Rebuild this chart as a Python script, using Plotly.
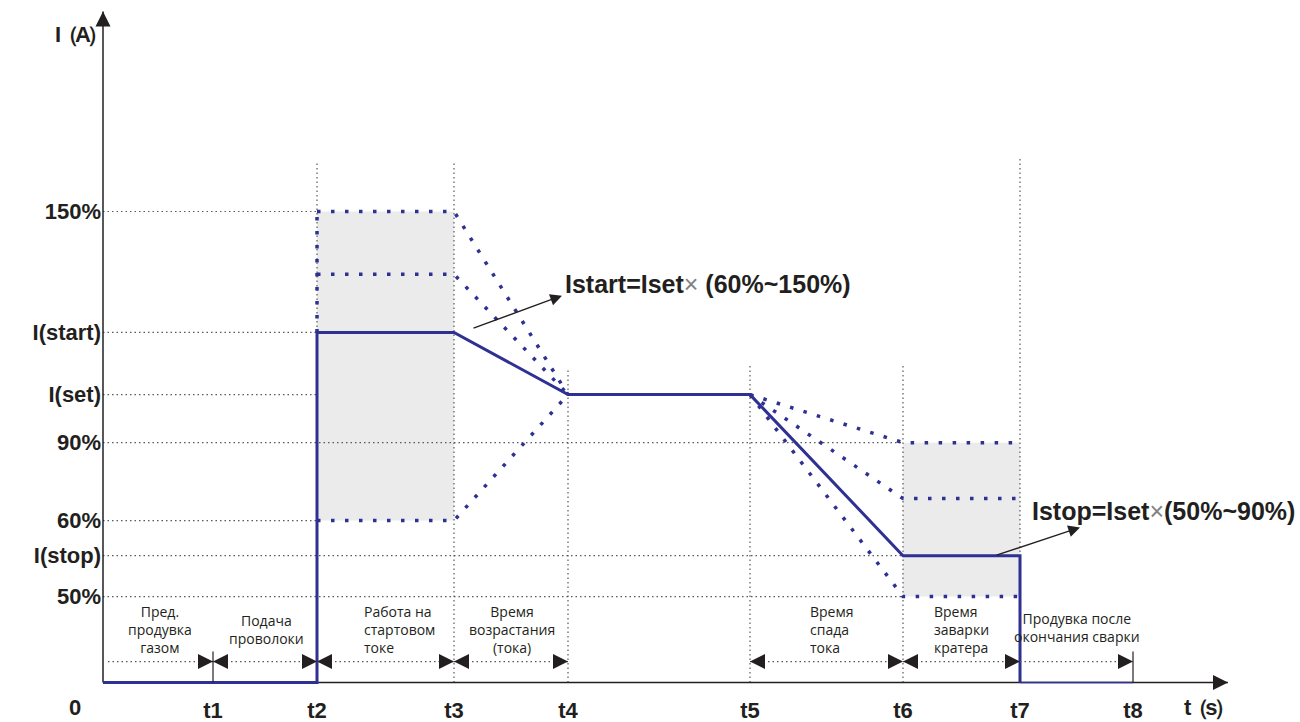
import plotly.graph_objects as go

# time marks on the t axis (s, schematic units)
t_names = ["t1", "t2", "t3", "t4", "t5", "t6", "t7", "t8"]
t_vals = [11.0, 21.4, 35.1, 46.5, 64.7, 80.0, 91.7, 103.0]

# current levels on the I axis (A, schematic units)
i_names = ["150%", "I(start)", "I(set)", "90%", "60%", "I(stop)", "50%"]
i_vals = [150.0, 111.5, 91.7, 76.4, 51.6, 40.4, 27.4]
i_start_mid = 130.0   # unlabeled intermediate start level
i_stop_mid = 58.6     # unlabeled intermediate crater level

# dotted vertical guides and where they start from the top
vguide_marks = ["t2", "t3", "t4", "t5", "t6", "t7"]
vguide_tops = [165.6, 165.6, 100.3, 101.3, 101.3, 167.5]

# dotted horizontal guides and the mark where they stop
hguide_levels = ["150%", "I(start)", "I(set)", "90%", "60%", "I(stop)", "50%"]
hguide_ends = ["t2", "t2", "t2", "t6", "t2", "t6", "t6"]

# phase labels above the t axis
phase_labels = [
    "Пред.<br>продувка<br>газом",
    "Подача<br>проволоки",
    "Работа на<br>стартовом<br>токе",
    "Время<br>возрастания<br>(тока)",
    "Время<br>спада<br>тока",
    "Время<br>заварки<br>кратера",
    "Продувка после<br>окончания сварки",
]

T = dict(zip(t_names, t_vals))
I = dict(zip(i_names, i_vals))

BLUE = "#2e3192"
GUIDE = "#58595b"
FILL = "#ebebeb"
INK = "#231f20"
DOTS = "3.5px,10.5px"
FINE = "1.5px,3px"

fig = go.Figure()


def line(x, y, color, width, dash="solid"):
    fig.add_trace(go.Scatter(
        x=x, y=y, mode="lines",
        line=dict(color=color, width=width, dash=dash),
        hoverinfo="skip", showlegend=False, cliponaxis=False,
    ))


def heads(x, y, symbol, size=14, color=INK):
    fig.add_trace(go.Scatter(
        x=x, y=y, mode="markers",
        marker=dict(symbol=symbol, size=size, color=color, line_width=0),
        hoverinfo="skip", showlegend=False, cliponaxis=False,
    ))


# shaded ranges
fig.add_shape(type="rect", x0=T["t2"], x1=T["t3"], y0=I["60%"], y1=I["150%"],
              fillcolor=FILL, line_width=0, layer="below")
fig.add_shape(type="rect", x0=T["t6"], x1=T["t7"], y0=I["50%"], y1=I["90%"],
              fillcolor=FILL, line_width=0, layer="below")

# guides
for lvl, end in zip(hguide_levels, hguide_ends):
    line([0, T[end]], [I[lvl], I[lvl]], GUIDE, 1.2, FINE)
for mark, top in zip(vguide_marks, vguide_tops):
    line([T[mark], T[mark]], [0, top], GUIDE, 1.2, FINE)

# possible start current range
line([T["t2"], T["t2"]], [I["I(start)"], I["150%"]], BLUE, 3.5, DOTS)
for lvl in [I["150%"], i_start_mid, I["60%"]]:
    line([T["t2"], T["t3"], T["t4"]], [lvl, lvl, I["I(set)"]], BLUE, 3.5, DOTS)

# possible crater current range
for lvl in [I["90%"], i_stop_mid, I["50%"]]:
    line([T["t5"], T["t6"], T["t7"]], [I["I(set)"], lvl, lvl], BLUE, 3.5, DOTS)

# axes
y_tip = 213.7
x_tip = 112.5
line([0, x_tip], [0, 0], INK, 1.5)
line([0, 0], [0, y_tip], INK, 1.5)
heads([x_tip], [0], "arrow-right", 15)
heads([0], [y_tip], "arrow-up", 15)

# welding current
cur_t = [0, T["t2"], T["t2"], T["t3"], T["t4"], T["t5"], T["t6"], T["t7"], T["t7"]]
cur_i = [0, 0, I["I(start)"], I["I(start)"], I["I(set)"], I["I(set)"],
         I["I(stop)"], I["I(stop)"], 0]
line(cur_t, cur_i, BLUE, 3)
line([T["t7"], T["t8"]], [0, 0], BLUE, 1.5)

# phase duration arrows
arr_y = 6.7
spans = [(0.5, T["t1"], False), (T["t1"], T["t2"], True), (T["t2"], T["t3"], True),
         (T["t3"], T["t4"], True), (T["t5"], T["t6"], True), (T["t6"], T["t7"], True),
         (T["t7"], T["t8"], False)]
for a, b, left in spans:
    line([a, b], [arr_y, arr_y], GUIDE, 1.2, FINE)
    heads([b], [arr_y], "arrow-right", 15)
    if left:
        heads([a], [arr_y], "arrow-left", 15)
for mark in ["t1", "t8"]:
    line([T[mark], T[mark]], [0, 9.9], INK, 1.2)

bold = dict(family="Liberation Sans, Arial", size=22, color=INK, weight="bold")
small = dict(family="Open Sans", size=14, color=INK)
tight = "<span style='letter-spacing:-4px'>%s</span>"

ann = [
    dict(x=0, y=0, text="0", xshift=-28, yshift=-25, font=bold),
    dict(x=0, y=206.4, text=tight % "I（A）", xanchor="right", xshift=4, font=bold),
    dict(x=110.5, y=0, text=tight % "t（s）", yshift=-25, font=bold),
    dict(x=46.0, y=126.8, xanchor="left", font=dict(bold, size=25),
         text="Istart=Iset<span style='font-weight:normal;color:#808285'>×</span> (60%~150%)"),
    dict(x=92.7, y=54.5, xanchor="left", font=dict(bold, size=25),
         text="Istop=Iset<span style='font-weight:normal;color:#808285'>×</span>(50%~90%)"),
    dict(x=45.9, y=123.2, ax=36.9, ay=112.7, axref="x", ayref="y", text="",
         showarrow=True, arrowhead=2, arrowsize=1.8, arrowwidth=1.3, arrowcolor=INK),
    dict(x=97.7, y=49.4, ax=89.2, ay=40.4, axref="x", ayref="y", text="",
         showarrow=True, arrowhead=2, arrowsize=1.8, arrowwidth=1.3, arrowcolor=INK),
]
phase_x = [5.7, 16.3, 25.9, 40.9, 70.5, 82.9, 97.4]
phase_y = [16.9, 16.9, 16.9, 16.9, 16.9, 16.9, 17.5]
phase_anchor = ["center", "center", "left", "center", "left", "left", "center"]
for txt, x, y, anc in zip(phase_labels, phase_x, phase_y, phase_anchor):
    ann.append(dict(x=x, y=y, text=txt, xanchor=anc, align=anc, font=small))
for a in ann:
    a.setdefault("showarrow", False)
    a.setdefault("xref", "x")
    a.setdefault("yref", "y")

fig.update_layout(
    width=1300,
    height=722,
    margin=dict(l=83, r=27, t=8, b=30, autoexpand=False),
    paper_bgcolor="white",
    plot_bgcolor="white",
    annotations=ann,
    xaxis=dict(
        range=[-2, 117], showgrid=False, zeroline=False, showline=False,
        tickvals=t_vals, ticktext=t_names, ticks="", tickfont=bold,
        anchor="free", position=3 / 217.8, ticklabelstandoff=12, automargin=False,
    ),
    yaxis=dict(
        range=[-3, 214.8], showgrid=False, zeroline=False, showline=False,
        tickvals=i_vals, ticktext=i_names, ticks="", tickfont=bold,
        anchor="free", position=2 / 119, ticklabelstandoff=2, automargin=False,
    ),
)

fig.write_html("out.html", config={"displayModeBar": False},
               post_script="document.body.style.margin = '0';")
